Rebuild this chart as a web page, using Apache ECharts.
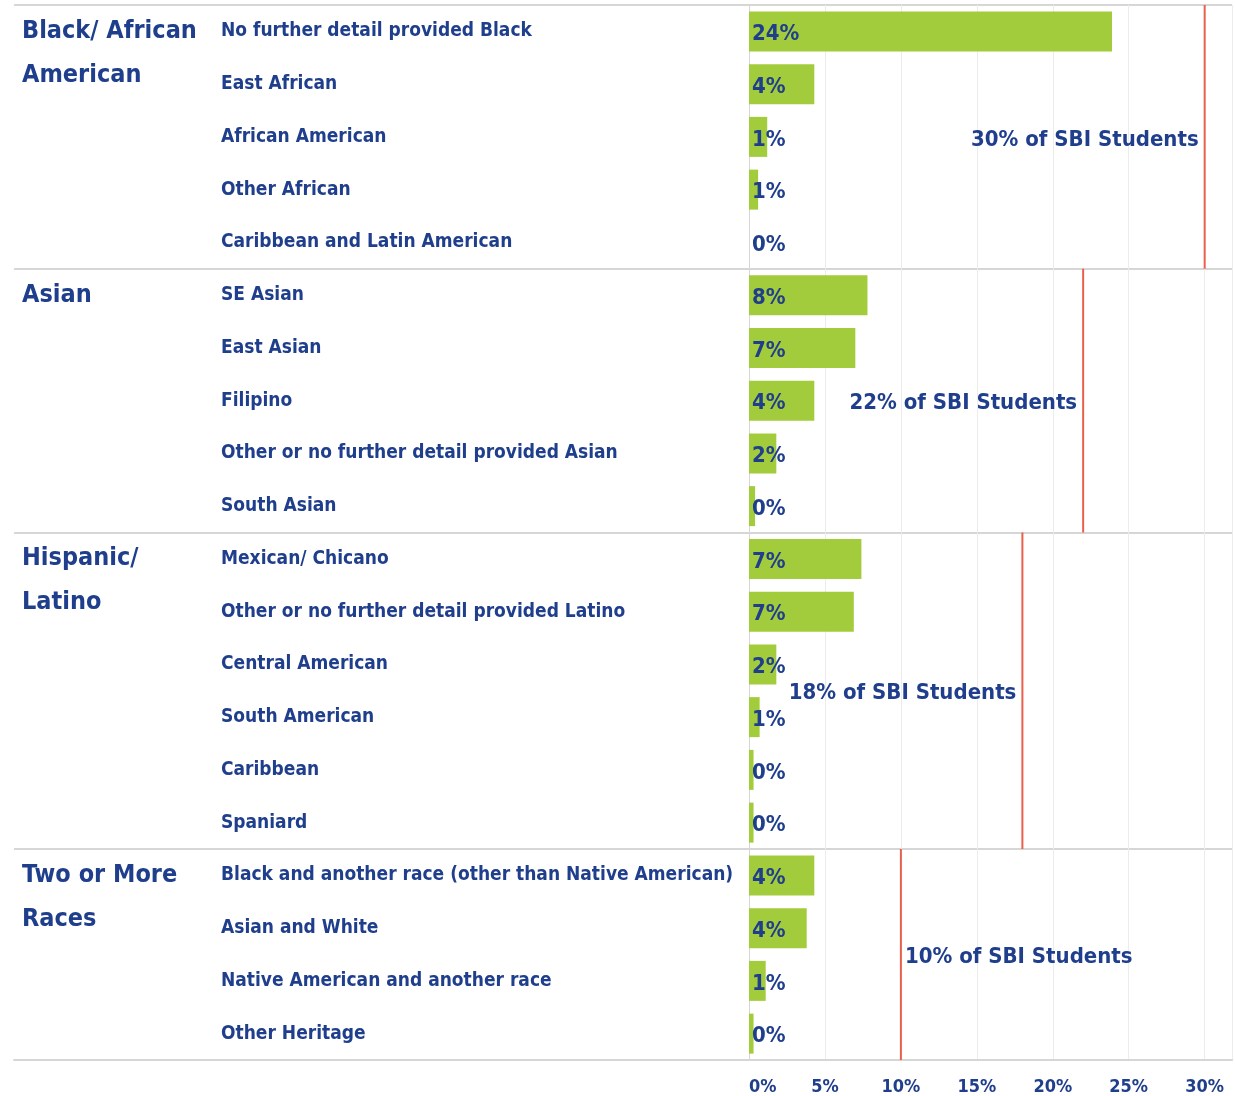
<!DOCTYPE html>
<html lang="en">
<head>
    <meta charset="UTF-8">
    <title>SBI Students by detailed race</title>
    <style>
        html, body { margin: 0; padding: 0; background: #fff; }
        #chart { width: 1235px; height: 1096px; }
    </style>
</head>
<body>
<div id="chart"></div>
<script src="https://cdn.jsdelivr.net/npm/echarts@6/dist/echarts.min.js"></script>
<script>
    // data
    var categories = [
        'No further detail provided Black', 'East African', 'African American', 'Other African', 'Caribbean and Latin American',
        'SE Asian', 'East Asian', 'Filipino', 'Other or no further detail provided Asian', 'South Asian',
        'Mexican/ Chicano', 'Other or no further detail provided Latino', 'Central American', 'South American', 'Caribbean', 'Spaniard',
        'Black and another race (other than Native American)', 'Asian and White', 'Native American and another race', 'Other Heritage'
    ];
    var values = [23.9, 4.3, 1.2, 0.6, 0, 7.8, 7.0, 4.3, 1.8, 0.4, 7.4, 6.9, 1.8, 0.7, 0.3, 0.3, 4.3, 3.8, 1.1, 0.3];

    var groups = ['Black/ African\nAmerican', 'Asian', 'Hispanic/\nLatino', 'Two or More\nRaces'];
    var groupFirst = [0, 5, 10, 16];
    var groupLast = [4, 9, 15, 19];
    var groupShare = [30, 22, 18, 10];
    var shareSide = ['left', 'left', 'left', 'right'];

    var xTicks = [0, 5, 10, 15, 20, 25, 30];

    var navy = '#1f3e8c';
    var font = '"DejaVu Sans Condensed", "Liberation Sans Narrow", sans-serif';

    var chart = echarts.init(document.getElementById('chart'));

    var refData = groupShare.map(function (s, i) {
        return [s, groupFirst[i], groupLast[i], i];
    });

    var option = {
        animation: false,
        textStyle: { fontFamily: font },
        grid: [
            { left: 14, right: 3, top: 5, bottom: 36, outerBoundsMode: 'none' },
            { left: 749, right: 3, top: 5, bottom: 36, outerBoundsMode: 'none' }
        ],
        xAxis: [
            {
                gridIndex: 0, type: 'value', min: 0, max: 1,
                axisLine: { show: true, lineStyle: { color: '#d6d6d6', width: 2 } },
                axisTick: { show: false }, axisLabel: { show: false }, splitLine: { show: false }
            },
            {
                gridIndex: 1, type: 'value', min: 0, max: 31.8, interval: 5,
                axisLine: { show: false }, axisTick: { show: false },
                splitLine: { show: true, lineStyle: { color: '#ececec', width: 1 } },
                axisLabel: {
                    margin: 18,
                    color: navy, fontSize: 18, fontWeight: 'bold', fontFamily: font,
                    alignMinLabel: 'left',
                    formatter: function (v) {
                        return xTicks.indexOf(v) >= 0 ? v + '%' : '';
                    }
                }
            }
        ],
        yAxis: [
            {
                gridIndex: 0, type: 'category', inverse: true, data: categories,
                axisLine: { show: false }, axisTick: { show: false },
                splitLine: {
                    show: true,
                    interval: function (idx) { return groupFirst.indexOf(idx) >= 0; },
                    lineStyle: { color: '#d6d6d6', width: 2 }
                },
                axisLabel: {
                    inside: true, interval: 0, margin: 8, align: 'left',
                    color: navy, fontSize: 25, fontWeight: 'bold', lineHeight: 44, fontFamily: font,
                    padding: [6, 0, 0, 0],
                    formatter: function (v, idx) {
                        var g = groupFirst.indexOf(idx);
                        if (g < 0) return '';
                        var parts = groups[g].split('\n');
                        return parts.length > 1 ? '\n' + groups[g] : groups[g];
                    }
                }
            },
            {
                gridIndex: 1, type: 'category', inverse: true, data: categories,
                axisLine: { show: true, lineStyle: { color: '#d6d6d6', width: 1 } },
                axisTick: { show: false },
                axisLabel: {
                    interval: 0, margin: 528, align: 'left',
                    color: navy, fontSize: 19, fontWeight: 'bold', fontFamily: font,
                    padding: [6, 0, 0, 0]
                }
            }
        ],
        series: [
            {
                type: 'bar', xAxisIndex: 1, yAxisIndex: 1,
                data: values, barWidth: 40,
                itemStyle: { color: '#a3cc3c' },
                label: {
                    show: true, position: 'insideLeft', distance: 3, offset: [0, 3],
                    color: navy, fontSize: 22, fontWeight: 'bold', fontFamily: font,
                    formatter: function (p) { return Math.round(p.value) + '%'; }
                }
            },
            {
                type: 'custom', xAxisIndex: 1, yAxisIndex: 1,
                data: refData, encode: { x: 0, y: 1 }, clip: false, z: 5,
                renderItem: function (params, api) {
                    var share = api.value(0);
                    var band = api.size([0, 1])[1];
                    var p0 = api.coord([share, api.value(1)]);
                    var p1 = api.coord([share, api.value(2)]);
                    var y0 = p0[1] - band / 2;
                    var y1 = p1[1] + band / 2;
                    var side = shareSide[api.value(3)];
                    return {
                        type: 'group',
                        children: [
                            {
                                type: 'line',
                                shape: { x1: p0[0], y1: y0, x2: p0[0], y2: y1 },
                                style: { stroke: '#e8604c', lineWidth: 2 }
                            },
                            {
                                type: 'text',
                                x: side === 'left' ? p0[0] - 6 : p0[0] + 4,
                                y: (y0 + y1) / 2 + 3,
                                style: {
                                    text: share + '% of SBI Students',
                                    fill: navy, fontSize: 22, fontWeight: 'bold', fontFamily: font,
                                    align: side === 'left' ? 'right' : 'left',
                                    verticalAlign: 'middle'
                                }
                            }
                        ]
                    };
                }
            }
        ]
    };

    chart.setOption(option);
</script>
</body>
</html>
